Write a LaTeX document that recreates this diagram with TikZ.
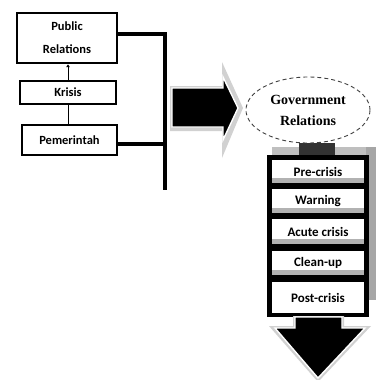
\documentclass[tikz,border=0pt]{standalone}
\usepackage{fontspec}
\setmainfont{Carlito}
\newfontfamily\tnr{Liberation Serif}
\usetikzlibrary{arrows.meta,shapes.geometric}
\begin{document}
\begin{tikzpicture}[x=1pt,y=-1pt,
  lbox/.style={draw=black,line width=2.4pt,fill=white,inner sep=0pt,align=center,
    font=\fontsize{12.5}{23}\selectfont\bfseries},
  stage/.style={fill=white,inner sep=0pt,minimum width=92pt,
    font=\fontsize{13}{15}\selectfont\bfseries},
  stripe/.style={fill=black!30},
  bigarrow/.style={fill=black,draw=white,line width=1.4pt,line join=miter},
  arrowshadow/.style={fill=black!18},
  bracket/.style={line width=3.2pt},
  thinlink/.style={line width=0.8pt},
  shade/.style={fill=black!35},
]
\useasboundingbox (0,0) rectangle (377,380);

% left boxes
\node[lbox,minimum width=100pt,minimum height=50pt] (pr) at (67,38) {Public\\Relations};
\node[lbox,minimum width=96pt,minimum height=23pt] (kr) at (68,92.5) {Krisis};
\node[lbox,minimum width=95pt,minimum height=30pt] (pm) at (69.5,140) {Pemerintah};

\draw[thinlink,-{Latex[length=3pt,width=4pt]}] (kr.north) -- (kr.north |- pr.south);
\draw[thinlink] (kr.south) -- (kr.south |- pm.north);

% bracket
\coordinate (b1) at (165,34);
\coordinate (b2) at (165,144);
\coordinate (bb) at (165,190);
\draw[bracket] (pr.east |- b1) -- (b1) -- (bb);
\draw[bracket] (pm.east |- b2) -- (b2);

% right arrow
\fill[arrowshadow] (170,86) -- (222,86) -- (222,62) -- (243,108) -- (222,158) -- (222,131) -- (170,131) -- cycle;
\filldraw[bigarrow] (172,88) -- (223,88) -- (223,77) -- (238,108) -- (223,140) -- (223,127) -- (172,127) -- cycle;

% grey backing of the stack
\fill[shade] (366,147) rectangle (376,300);
\fill[black!25] (272,147) rectangle (366,155);

% stack
\node[fill=black,minimum width=102pt,minimum height=162pt,inner sep=0pt] (stack) at (318,236) {};
\node[stage,minimum height=23pt] (s1) at (318,171.5) {Pre-crisis};
\node[stage,minimum height=24pt] (s2) at (318,201) {Warning};
\node[stage,minimum height=25pt] (s3) at (318,231.5) {Acute crisis};
\node[stage,minimum height=24pt] (s4) at (318,263) {Clean-up};
\node[stage,minimum height=31pt] (s5) at (318,297.5) {Post-crisis};
\foreach \s in {s1,s2,s3,s4}{
  \fill[stripe] (\s.south west) rectangle ([yshift=5.5pt]\s.south east);
}

% connector block between ellipse and stack
\fill[black!80] (299,143) rectangle (335,155);

% ellipse
\node[draw=black!75,dash pattern=on 4pt off 3pt,line width=0.9pt,ellipse,
  minimum width=124pt,minimum height=66pt,inner sep=0pt,align=center,
  font={\tnr\fontsize{14}{21}\selectfont\bfseries}] (gr) at (308,110) {Government\\Relations};

% down arrow
\fill[arrowshadow] (293,316) -- (344,316) -- (344,326) -- (371,326) -- (318,382) -- (269,326) -- (293,326) -- cycle;
\filldraw[bigarrow] (295,317) -- (342,317) -- (342,328) -- (365,328) -- (318,378) -- (275,328) -- (295,328) -- cycle;
\end{tikzpicture}
\end{document}
